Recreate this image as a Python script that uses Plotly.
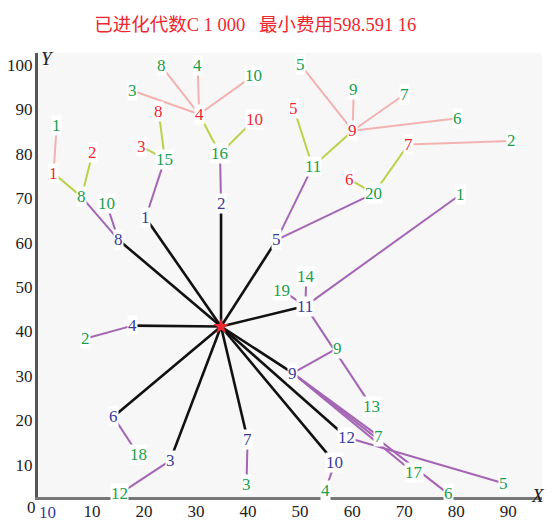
import plotly.graph_objects as go

# ---------------- data ----------------
depot_x, depot_y = 34.8, 41.1

# level 1 (blue labels, black edges from depot)
l1_labels = ["8", "1", "2", "5", "11", "4", "6", "3", "7", "10", "12", "9"]
l1_x = [15.1, 20.3, 34.8, 45.5, 51.0, 17.8, 14.1, 25.0, 39.9, 56.7, 59.0, 48.6]
l1_y = [60.6, 65.6, 68.9, 60.6, 45.7, 41.3, 20.8, 10.9, 15.7, 10.4, 16.1, 30.6]

# level 2 (green labels, purple edges), parent = index into level 1
l2_labels = ["8", "10", "15", "16", "11", "20", "19", "14", "1", "13",
             "2", "18", "12", "3", "4", "5", "9", "7", "17", "6"]
l2_x = [8.0, 12.8, 24.0, 34.6, 52.4, 64.2, 46.5, 51.2, 80.9, 63.8,
        8.8, 18.9, 15.3, 39.7, 54.8, 89.1, 57.1, 65.1, 71.8, 78.5]
l2_y = [70.3, 68.7, 78.8, 80.0, 77.1, 71.1, 49.3, 52.3, 70.9, 23.0,
        38.4, 12.2, 3.4, 5.6, 4.1, 5.8, 36.2, 16.4, 8.2, 3.4]
l2_parent = [0, 0, 1, 2, 3, 3, 4, 4, 4, 4,
             5, 6, 7, 8, 9, 10, 11, 11, 11, 11]

# level 3 (red labels, yellow-green edges), parent = index into level 2
l3_labels = ["1", "2", "3", "8", "4", "10", "5", "9", "6", "7"]
l3_x = [2.6, 10.1, 19.6, 22.8, 30.6, 41.3, 48.8, 60.1, 59.4, 70.8]
l3_y = [75.6, 80.2, 81.6, 89.6, 88.9, 87.8, 90.2, 85.2, 74.3, 82.1]
l3_parent = [0, 0, 2, 2, 3, 3, 4, 4, 5, 5]

# level 4 (green labels, pink edges), parent = index into level 3
l4_labels = ["1", "3", "8", "4", "10", "5", "9", "7", "6", "2"]
l4_x = [3.2, 17.8, 23.3, 30.3, 41.0, 50.1, 60.3, 70.1, 80.3, 90.7]
l4_y = [86.3, 94.2, 99.8, 99.8, 97.6, 100.0, 94.5, 93.4, 88.0, 82.9]
l4_parent = [0, 4, 4, 4, 4, 7, 7, 7, 7, 9]

x_ticks = [10, 20, 30, 40, 50, 60, 70, 80, 90]
y_ticks = [10, 20, 30, 40, 50, 60, 70, 80, 90, 100]

title_text = "已进化代数C 1 000   最小费用598.591 16"

# ---------------- styles ----------------
BLUE = "#3a3a9c"
GREEN = "#17a04c"
RED = "#ee2830"
BLACK_EDGE = "#111111"
PURPLE = "#a466b4"
YGREEN = "#bcd14a"
PINK = "#f3b2b2"
SERIF = "Liberation Serif, Noto Sans CJK SC, serif"
LABEL_SIZE = 17


def edges(px, py, cx, cy, parent):
    xs, ys = [], []
    for i, p in enumerate(parent):
        xs += [px[p], cx[i], None]
        ys += [py[p], cy[i], None]
    return xs, ys


fig = go.Figure()

ex, ey = edges([depot_x], [depot_y], l1_x, l1_y, [0] * len(l1_x))
fig.add_trace(go.Scatter(x=ex, y=ey, mode="lines",
                         line=dict(color=BLACK_EDGE, width=2.6), hoverinfo="skip"))
ex, ey = edges(l1_x, l1_y, l2_x, l2_y, l2_parent)
fig.add_trace(go.Scatter(x=ex, y=ey, mode="lines",
                         line=dict(color=PURPLE, width=2), hoverinfo="skip"))
ex, ey = edges(l2_x, l2_y, l3_x, l3_y, l3_parent)
fig.add_trace(go.Scatter(x=ex, y=ey, mode="lines",
                         line=dict(color=YGREEN, width=2), hoverinfo="skip"))
ex, ey = edges(l3_x, l3_y, l4_x, l4_y, l4_parent)
fig.add_trace(go.Scatter(x=ex, y=ey, mode="lines",
                         line=dict(color=PINK, width=2), hoverinfo="skip"))

fig.add_trace(go.Scatter(x=[depot_x], y=[depot_y], mode="markers",
                         marker=dict(symbol="star", size=12, color=RED,
                                     line=dict(width=0)),
                         hoverinfo="skip"))

annotations = []


def add_labels(labels, xs, ys, color):
    for t, x, y in zip(labels, xs, ys):
        annotations.append(dict(x=x, y=y, xref="x", yref="y", text=t,
                                showarrow=False, bgcolor="white", borderpad=0,
                                xanchor="center", yanchor="middle",
                                font=dict(family=SERIF, size=LABEL_SIZE, color=color)))


add_labels(l1_labels, l1_x, l1_y, BLUE)
add_labels(l2_labels, l2_x, l2_y, GREEN)
add_labels(l3_labels, l3_x, l3_y, RED)
add_labels(l4_labels, l4_x, l4_y, GREEN)


def paper_text(x, y, text, size, color):
    annotations.append(dict(xref="paper", yref="paper", x=x, y=y, text=text,
                            showarrow=False, xanchor="center", yanchor="middle",
                            font=dict(family=SERIF, size=size, color=color)))


paper_text(0.018, 0.988, "<i>Y</i>", 19, "#222")
paper_text(0.993, 0.004, "<i>X</i>", 19, "#222")
paper_text(-0.012, -0.023, "0", LABEL_SIZE, "#222")
paper_text(0.018, -0.034, "10", LABEL_SIZE, BLUE)

# page body has an 8px margin, so the figure is sized to the visible 547x514 area
fig.update_layout(
    width=547, height=514,
    margin=dict(l=30, r=13, t=45, b=25),
    paper_bgcolor="white",
    plot_bgcolor="#f7f7f7",
    showlegend=False,
    title=dict(text=title_text, xref="container", yref="container",
               x=0.452, y=0.967, xanchor="center", yanchor="middle",
               font=dict(family=SERIF, size=18.5, color=RED)),
    annotations=annotations,
    xaxis=dict(range=[-0.385, 96.5], tickvals=x_ticks, ticktext=[str(v) for v in x_ticks],
               showgrid=False, zeroline=False, showline=True, linecolor="#777",
               linewidth=3, ticks="", ticklabelstandoff=-3,
               automargin=False,
               tickfont=dict(family=SERIF, size=LABEL_SIZE, color="#222")),
    yaxis=dict(range=[2.7, 102.7], tickvals=y_ticks, ticktext=[str(v) for v in y_ticks],
               showgrid=False, zeroline=False, showline=True, linecolor="#555",
               linewidth=3, ticks="", ticklabelstandoff=-1,
               automargin=False,
               tickfont=dict(family=SERIF, size=LABEL_SIZE, color="#222")),
)

fig.write_html("out.html")
